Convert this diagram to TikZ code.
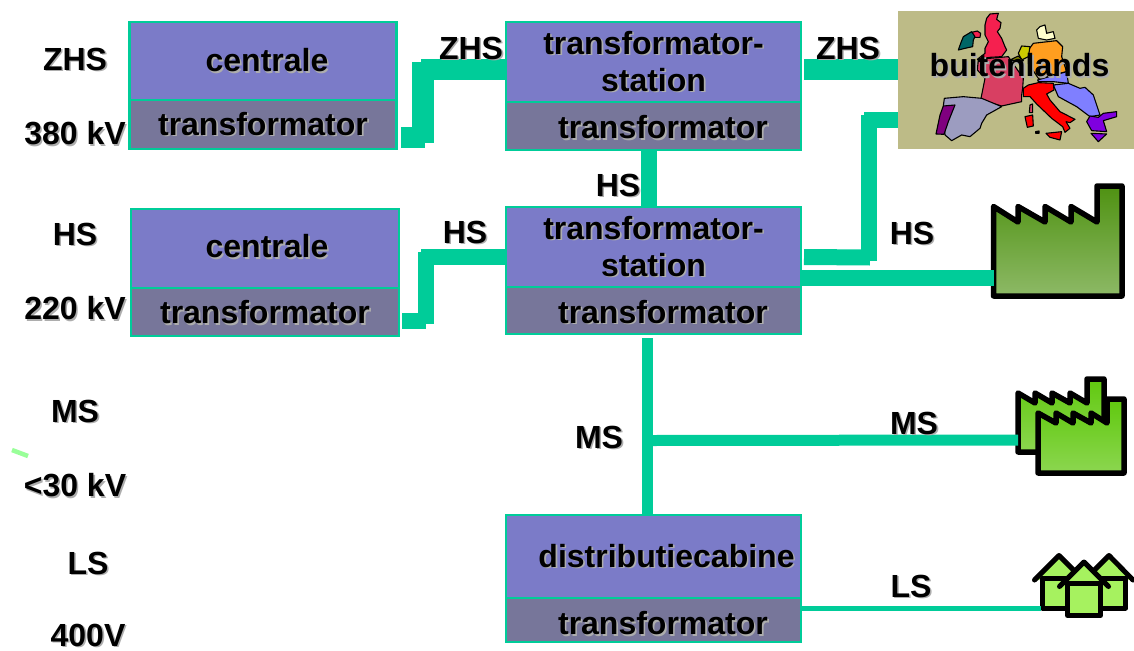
\documentclass[tikz,border=0pt]{standalone}
\usepackage{fontspec}
\setmainfont{Liberation Sans}
\usetikzlibrary{positioning}

\definecolor{lijnkleur}{HTML}{00CC99}
\definecolor{vakblauw}{HTML}{7B7BC8}
\definecolor{vakgrijs}{HTML}{77769A}
\definecolor{kaartkleur}{HTML}{BDBB87}
\definecolor{huiskleur}{HTML}{A6F25F}
\definecolor{groen_a_boven}{HTML}{4F9212}
\definecolor{groen_a_onder}{HTML}{8DB966}
\definecolor{groen_b_boven}{HTML}{60C90E}
\definecolor{groen_b_onder}{HTML}{8CD650}
\definecolor{streepje}{HTML}{99FF99}
\definecolor{uk}{HTML}{F5204F}
\definecolor{ierland}{HTML}{006666}
\definecolor{duitsland}{HTML}{FF9E1F}
\definecolor{denemarken}{HTML}{FFFFCC}
\definecolor{frankrijk}{HTML}{D83F62}
\definecolor{nederland}{HTML}{CCCC00}
\definecolor{belgie}{HTML}{808000}
\definecolor{lichtblauw}{HTML}{7F7FFF}
\definecolor{spanje}{HTML}{9C9CC0}
\definecolor{portugal}{HTML}{7F007F}
\definecolor{griekenland}{HTML}{7F00DF}

\newcommand{\schaduw}[1]{\makebox[0pt][l]{\hspace{1.6pt}\raisebox{-1.6pt}{\textcolor{black!32}{#1}}}#1}

\tikzset{
  vak/.style={draw=lijnkleur,line width=2.7pt,outer sep=0pt,inner sep=0pt,align=center,
    font=\fontsize{32}{37}\selectfont\bfseries},
  vakboven/.style={vak,fill=vakblauw},
  vakonder/.style={vak,fill=vakgrijs},
  tekstlaag/.style={text height=#1,text depth=0pt},
  spanning/.style={inner sep=0pt,font=\fontsize{32}{37}\selectfont\bfseries},
  verbinding/.style={draw=lijnkleur},
  land/.style={draw=black,line width=1.1pt,line join=round},
  fabriek/.style={draw=black,line width=5.5pt,line join=round,line cap=round},
  huis/.style={draw=black,line width=5pt,line join=round,line cap=round,fill=huiskleur},
}

\begin{document}
\begin{tikzpicture}[x=1pt,y=-1pt]

  \useasboundingbox (0,0) rectangle (1134,650);

  % boxes
  \node [vakboven,minimum width=267.5pt,minimum height=78pt] (centrale_zhs) at (263,61) {\hspace*{8pt}\schaduw{centrale}};
  \node [vakonder,minimum width=267.5pt,minimum height=49pt,below=0pt of centrale_zhs] (trafo_zhs) {\schaduw{transformator}};

  \node [vakboven,minimum width=268pt,minimum height=79pt,tekstlaag=18.5pt] (centrale_hs) at (265,248.5) {\hspace*{4pt}\schaduw{centrale}};
  \node [vakonder,minimum width=268pt,minimum height=48pt,below=0pt of centrale_hs,tekstlaag=23pt] (trafo_hs) {\schaduw{transformator}};

  \node [vakboven,minimum width=295pt,minimum height=80pt] (station_zhs) at (653.5,62) {\schaduw{transformator-}\\\schaduw{station}};
  \node [vakonder,minimum width=295pt,minimum height=48pt,below=0pt of station_zhs,tekstlaag=25.5pt] (trafo_station_zhs) {\hspace*{19pt}\schaduw{transformator}};

  \node [vakboven,minimum width=295pt,minimum height=80pt] (station_hs) at (653.5,247) {\schaduw{transformator-}\\\schaduw{station}};
  \node [vakonder,minimum width=295pt,minimum height=47pt,below=0pt of station_hs,tekstlaag=25.5pt] (trafo_station_hs) {\hspace*{19pt}\schaduw{transformator}};

  \node [vakboven,minimum width=295pt,minimum height=83pt] (cabine) at (653.5,556.5) {\hspace*{26pt}\schaduw{distributiecabine}};
  \node [vakonder,minimum width=295pt,minimum height=44pt,below=0pt of cabine,tekstlaag=29pt] (trafo_cabine) {\hspace*{19pt}\schaduw{transformator}};

  % map
  \node [fill=kaartkleur,minimum width=236pt,minimum height=138pt,inner sep=0pt,outer sep=0pt] (kaart) at (1016,80) {};
  \begin{scope}[shift={(890,0)},x=0.3333pt,y=-0.3333pt]
    \draw [land,fill=uk] (290,55) -- (300,42) -- (325,40) -- (320,58) -- (333,68) -- (330,85) -- (322,95) -- (335,115) -- (345,140) -- (350,150) -- (335,170) -- (300,172) -- (262,178) -- (285,160) -- (285,145) -- (295,125) -- (285,105) -- (285,75) -- cycle;
    \draw [land,fill=uk] (245,97) -- (262,93) -- (272,100) -- (270,112) -- (252,112) -- cycle;
    \draw [land,fill=ierland] (205,150) -- (212,130) -- (220,110) -- (245,95) -- (255,110) -- (250,120) -- (248,140) -- (225,145) -- cycle;
    \draw [land,fill=duitsland] (430,130) -- (500,122) -- (518,140) -- (515,170) -- (530,215) -- (445,235) -- (415,190) -- (415,150) -- cycle;
    \draw [land,fill=denemarken] (440,90) -- (450,80) -- (465,75) -- (470,100) -- (490,95) -- (495,115) -- (470,120) -- (445,115) -- cycle;
    \draw [land,fill=frankrijk] (265,178) -- (355,170) -- (400,235) -- (398,265) -- (395,285) -- (395,305) -- (335,318) -- (272,300) -- (285,235) -- (262,210) -- cycle;
    \draw [land,fill=nederland] (385,160) -- (395,138) -- (420,140) -- (415,170) -- (395,180) -- cycle;
    \draw [land,fill=belgie] (360,180) -- (385,168) -- (400,182) -- (395,185) -- cycle;
    \draw [land,fill=lichtblauw] (443,240) -- (530,215) -- (535,250) -- (490,245) -- (445,245) -- cycle;
    \draw [land,fill=lichtblauw] (490,255) -- (535,250) -- (570,265) -- (585,262) -- (610,285) -- (630,345) -- (600,350) -- (560,320) -- (505,290) -- cycle;
    \draw [land,fill=red] (400,265) -- (415,255) -- (445,248) -- (490,250) -- (492,270) -- (470,282) -- (480,300) -- (510,335) -- (555,358) -- (540,368) -- (528,365) -- (540,385) -- (525,397) -- (518,380) -- (485,355) -- (440,312) -- (420,290) -- (400,290) -- cycle;
    \draw [land,fill=red] (468,400) -- (515,395) -- (510,420) -- (480,412) -- cycle;
    \draw [land,fill=red] (405,350) -- (428,345) -- (430,378) -- (412,382) -- cycle;
    \draw [land,fill=frankrijk] (420,315) -- (428,312) -- (428,338) -- (418,338) -- cycle;
    \draw [land,fill=spanje] (163,295) -- (220,290) -- (275,295) -- (335,320) -- (290,345) -- (275,370) -- (270,385) -- (240,410) -- (215,405) -- (185,422) -- (165,405) -- (160,318) -- cycle;
    \draw [land,fill=portugal] (160,318) -- (195,315) -- (175,365) -- (162,403) -- (138,402) -- (150,345) -- cycle;
    \draw [land,fill=griekenland] (590,365) -- (600,348) -- (625,352) -- (640,340) -- (680,335) -- (680,350) -- (640,362) -- (650,395) -- (605,392) -- cycle;
    \draw [land,fill=griekenland] (603,400) -- (650,402) -- (625,425) -- cycle;
    \draw [land,fill=black] (437,395) -- (447,393) -- (447,400) -- (437,400) -- cycle;
  \end{scope}
  \node [spanning] (buitenlands) at (1019.5,66) {\schaduw{buitenlands}};

  % factories and houses
  \draw [fabriek,top color=groen_a_boven,bottom color=groen_a_onder] (993.5,206.5) -- (1018,222) -- (1018,206.5) -- (1045,222) -- (1045,206.5) -- (1071,222) -- (1071,206.5) -- (1097,222) -- (1097,186) -- (1122,186) -- (1122,296) -- (993.5,296) -- cycle;
  \coordinate (fabriek_hs) at (993.5,278);

  \draw [fabriek,top color=groen_b_boven,bottom color=groen_b_onder] (1018,393) -- (1035,403) -- (1035,393) -- (1052,403) -- (1052,393) -- (1070,403) -- (1070,393) -- (1087,403) -- (1087,379) -- (1104,379) -- (1104,452) -- (1018,452) -- cycle;
  \draw [fabriek,top color=groen_b_boven,bottom color=groen_b_onder] (1038,413) -- (1056,423) -- (1056,413) -- (1073,423) -- (1073,413) -- (1091,423) -- (1091,413) -- (1107,423) -- (1107,399) -- (1124,399) -- (1124,473) -- (1038,473) -- cycle;
  \coordinate (fabriek_ms) at (1018,440);

  \draw [huis] (1034.5,580) -- (1059,555.5) -- (1083.5,580);
  \draw [huis] (1084.5,580) -- (1109,555.5) -- (1133,580);
  \draw [huis] (1042.5,578) -- (1042.5,608) -- (1125.5,608) -- (1125.5,578) -- cycle;
  \draw [huis] (1059.5,586.5) -- (1084,562) -- (1108.5,586.5);
  \draw [huis] (1067.5,583) -- (1067.5,615.5) -- (1100.5,615.5) -- (1100.5,583) -- cycle;
  \coordinate (huizen) at (1041,608.5);

  % connections
  \path [verbinding,line width=21pt] ([xshift=4pt,yshift=-12.5pt]trafo_zhs.east) -- +(24,0);
  \path [verbinding,line width=22pt] (423,62) -- (423,143);
  \path [verbinding,line width=21pt] ([yshift=-7.5pt]station_zhs.west) -- (421,69.5);

  \path [verbinding,line width=16pt] ([xshift=3pt,yshift=-9pt]trafo_hs.east) -- +(24,0);
  \path [verbinding,line width=16pt] (426,252) -- (426,324);
  \path [verbinding,line width=16pt] ([yshift=-10pt]station_hs.west) -- (421,257);

  \path [verbinding,line width=21pt] ([xshift=3pt,yshift=-7.5pt]station_zhs.east) -- ([yshift=10.5pt]kaart.west);
  \path [verbinding,line width=16pt] ([xshift=3pt,yshift=-10pt]station_hs.east) -- (870,257.5);
  \path [verbinding,line width=16pt] (869,115) -- (869,261);
  \path [verbinding,line width=16pt] (864,120) -- ([yshift=-40pt]kaart.west);

  \path [verbinding,line width=16pt] (trafo_station_zhs.south -| 649,0) -- (station_hs.north -| 649,0);
  \path [verbinding,line width=16pt] (trafo_station_hs.east |- 0,278) -- (fabriek_hs);
  \path [verbinding,line width=11pt] (647.5,338) -- (cabine.north -| 647.5,0);
  \coordinate (aftakking) at (653,440.5);
  \path [verbinding,line width=11pt] (aftakking) -- (fabriek_ms);
  \path [verbinding,line width=5pt] (trafo_cabine.east |- huizen) -- (huizen);

  % labels
  \node [spanning] (l_zhs) at (75,60) {\schaduw{ZHS}};
  \node [spanning] (l_380) at (75,134) {\schaduw{380 kV}};
  \node [spanning] (l_hs) at (75,235) {\schaduw{HS}};
  \node [spanning] (l_220) at (75,309) {\schaduw{220 kV}};
  \node [spanning] (l_ms) at (75,412) {\schaduw{MS}};
  \node [spanning] (l_30) at (75,486) {\schaduw{<30 kV}};
  \node [spanning] (l_ls) at (88,564) {\schaduw{LS}};
  \node [spanning] (l_400) at (88,636) {\schaduw{400V}};

  \node [spanning] (v_zhs_links) at (471,49) {\schaduw{ZHS}};
  \node [spanning] (v_zhs_rechts) at (848,49) {\schaduw{ZHS}};
  \node [spanning] (v_hs_links) at (465,233) {\schaduw{HS}};
  \node [spanning] (v_hs_midden) at (618,186) {\schaduw{HS}};
  \node [spanning] (v_hs_rechts) at (912,234) {\schaduw{HS}};
  \node [spanning] (v_ms_midden) at (599,438) {\schaduw{MS}};
  \node [spanning] (v_ms_rechts) at (914,424) {\schaduw{MS}};
  \node [spanning] (v_ls) at (911,587) {\schaduw{LS}};

  \draw [line width=4.5pt,draw=streepje] (12,450) -- (28,456);

\end{tikzpicture}
\end{document}
